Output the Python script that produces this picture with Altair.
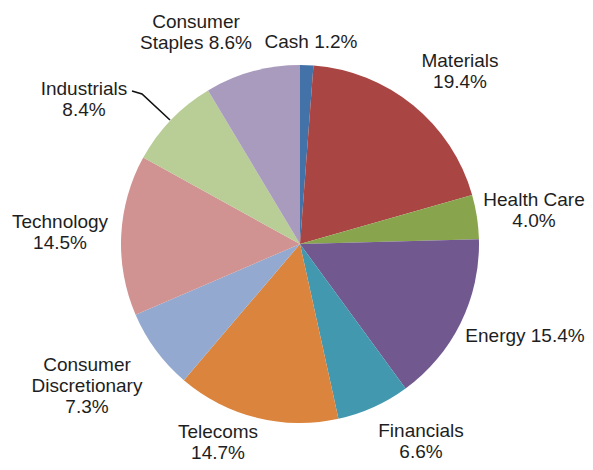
import altair as alt
import pandas as pd

# Data
sectors = ["Cash", "Materials", "Health Care", "Energy", "Financials", "Telecoms",
           "Consumer Discretionary", "Technology", "Industrials", "Consumer Staples"]
weights = [1.2, 19.4, 4.0, 15.4, 6.6, 14.7, 7.3, 14.5, 8.4, 8.6]
colors = ["#4372A9", "#A94543", "#88A54E", "#71588F", "#4198AF", "#DB843D",
          "#93A9CF", "#D09392", "#B9CD96", "#A99BBD"]
label_texts = ["Cash 1.2%", "Materials\n19.4%", "Health Care\n4.0%", "Energy 15.4%",
               "Financials\n6.6%", "Telecoms\n14.7%", "Consumer\nDiscretionary\n7.3%",
               "Technology\n14.5%", "Industrials\n8.4%", "Consumer\nStaples 8.6%"]

# Label layout (pixel positions in chart space; y is the first line)
label_x = [303, 452, 526, 517, 413, 210, 79, 52, 76, 188]
label_y = [34, 53, 192, 328, 423, 424, 357, 214, 81, 14]
leader_x = [124, 134, 162]
leader_y = [83, 86, 112]

df = pd.DataFrame({"sector": sectors, "weight": weights, "order": list(range(len(sectors)))})
labels = pd.DataFrame({"text": label_texts, "lx": label_x, "ly": label_y})
leader = pd.DataFrame({"lx": leader_x, "ly": leader_y, "i": list(range(len(leader_x)))})

pie = alt.Chart(df).mark_arc(outerRadius=179).encode(
    theta=alt.Theta("weight:Q", stack=True),
    order=alt.Order("order:Q"),
    color=alt.Color("sector:N", scale=alt.Scale(domain=sectors, range=colors), legend=None),
    x=alt.value(292),
    y=alt.value(236),
)

text = alt.Chart(labels).mark_text(
    font="Liberation Sans", fontSize=19, color="#1e1e1e",
    align="center", baseline="middle", lineBreak="\n", lineHeight=21,
).encode(
    x=alt.X("lx:Q", scale=None),
    y=alt.Y("ly:Q", scale=None),
    text="text:N",
)

line = alt.Chart(leader).mark_line(color="#111111", strokeWidth=1.6).encode(
    x=alt.X("lx:Q", scale=None),
    y=alt.Y("ly:Q", scale=None),
    order="i:Q",
)

chart = alt.layer(pie, line, text).properties(
    width=577, height=454, padding=0,
    autosize=alt.AutoSizeParams(type="none"),
).configure_view(stroke=None)

chart.save("out.html", embed_options={"renderer": "svg", "actions": False})
